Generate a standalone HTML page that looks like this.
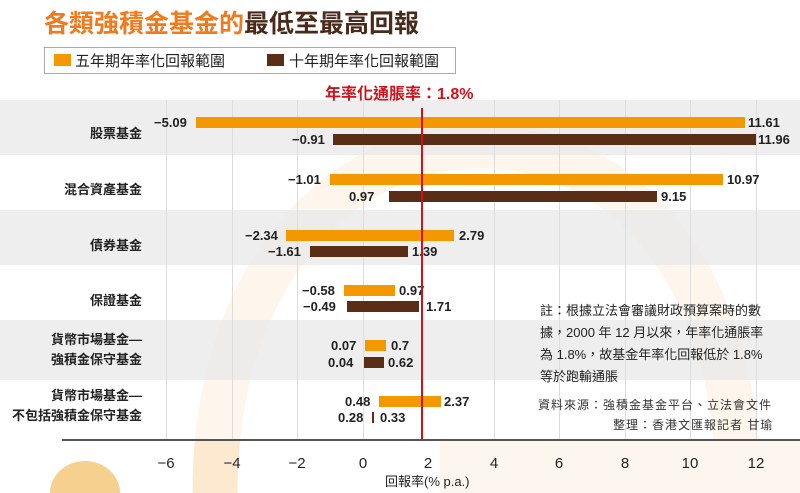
<!DOCTYPE html><html><head><meta charset="utf-8"><style>
html,body{margin:0;padding:0;width:800px;height:493px;overflow:hidden}
#w{width:800px;height:493px;overflow:hidden;background:#fff;font-family:"Liberation Sans","Noto Sans CJK TC",sans-serif;position:relative}
.a{position:absolute}
.v{position:absolute;font-weight:bold;font-size:13px;color:#222;line-height:11px}
.lab{position:absolute;right:658px;font-weight:bold;font-size:13px;color:#222;text-align:right;white-space:nowrap}
.o{position:absolute;height:11px;background:#f39800}
.b{position:absolute;height:11px;background:#5a2e16}
.g{position:absolute;left:0;width:800px;background:#ececec}
.vg{position:absolute;top:100px;height:340px;width:1px;background:#ddd}
.t{position:absolute;top:455px;font-size:15px;color:#222;width:30px;text-align:center;line-height:18px}
</style></head><body><div id="w">
<svg class="a" style="left:0;top:0" width="800" height="493" viewBox="0 0 800 493">
<path d="M215 493 C215 40 740 20 738 493" fill="none" stroke="#fde9cf" stroke-width="45"/>
<rect x="440" y="440" width="360" height="53" fill="#fdf6ee"/>
<path d="M50 493 A35 32 0 0 1 120 493 Z" fill="#f6d08f"/>
</svg>
<div class="g" style="top:100px;height:55px;opacity:.9"></div>
<div class="g" style="top:210px;height:55px;opacity:.9"></div>
<div class="g" style="top:320px;height:60px;opacity:.9"></div>
<div class="a" style="left:0;top:155px;width:800px;height:55px;background:rgba(255,255,255,.6)"></div>
<div class="a" style="left:0;top:265px;width:800px;height:55px;background:rgba(255,255,255,.6)"></div>
<div class="a" style="left:0;top:380px;width:800px;height:60px;background:rgba(255,255,255,.6)"></div>
<div class="vg" style="left:166px"></div><div class="vg" style="left:232px"></div><div class="vg" style="left:297px"></div><div class="vg" style="left:363px"></div><div class="vg" style="left:494px"></div><div class="vg" style="left:559px"></div><div class="vg" style="left:625px"></div><div class="vg" style="left:690px"></div><div class="vg" style="left:756px"></div>
<div class="a" style="left:44px;top:4px;font-size:25px;font-weight:bold;color:#f07a1e;white-space:nowrap">各類強積金基金的<span style="color:#4a2a1a">最低至最高回報</span></div>
<div class="a" style="left:44px;top:47px;width:410px;height:25px;border:1px solid #aaa;background:#fff"></div>
<div class="a" style="left:54px;top:54px;width:17px;height:12px;background:#f39800"></div>
<div class="a" style="left:75px;top:50px;font-size:15px;color:#222">五年期年率化回報範圍</div>
<div class="a" style="left:267px;top:54px;width:17px;height:12px;background:#5a2e16"></div>
<div class="a" style="left:289px;top:50px;font-size:15px;color:#222">十年期年率化回報範圍</div>
<div class="a" style="left:325px;top:80px;font-size:16px;font-weight:bold;color:#d0121b;white-space:nowrap">年率化通脹率：1.8%</div>

<div class="lab" style="top:123px">股票基金</div>
<div class="lab" style="top:179px">混合資產基金</div>
<div class="lab" style="top:235px">債券基金</div>
<div class="lab" style="top:290px">保證基金</div>
<div class="lab" style="top:330px;line-height:20px">貨幣市場基金—<br>強積金保守基金</div>
<div class="lab" style="top:386px;line-height:20px">貨幣市場基金—<br>不包括強積金保守基金</div>

<div class="o" style="left:196px;width:549px;top:117px"></div><div class="v" style="left:154px;top:117px">−5.09</div><div class="v" style="left:748px;top:117px">11.61</div>
<div class="b" style="left:333px;width:423px;top:134px"></div><div class="v" style="left:292px;top:134px">−0.91</div><div class="v" style="left:758px;top:134px">11.96</div>
<div class="o" style="left:330px;width:393px;top:174px"></div><div class="v" style="left:288px;top:174px">−1.01</div><div class="v" style="left:727px;top:174px">10.97</div>
<div class="b" style="left:389px;width:268px;top:191px"></div><div class="v" style="left:349px;top:191px">0.97</div><div class="v" style="left:661px;top:191px">9.15</div>
<div class="o" style="left:286px;width:168px;top:230px"></div><div class="v" style="left:245px;top:230px">−2.34</div><div class="v" style="left:459px;top:230px">2.79</div>
<div class="b" style="left:310px;width:98px;top:246px"></div><div class="v" style="left:268px;top:246px">−1.61</div><div class="v" style="left:412px;top:246px">1.39</div>
<div class="o" style="left:344px;width:51px;top:285px"></div><div class="v" style="left:302px;top:285px">−0.58</div><div class="v" style="left:399px;top:285px">0.97</div>
<div class="b" style="left:347px;width:72px;top:301px"></div><div class="v" style="left:303px;top:301px">−0.49</div><div class="v" style="left:426px;top:301px">1.71</div>
<div class="o" style="left:365px;width:21px;top:340px"></div><div class="v" style="left:331px;top:340px">0.07</div><div class="v" style="left:391px;top:340px">0.7</div>
<div class="b" style="left:364px;width:20px;top:357px"></div><div class="v" style="left:328px;top:357px">0.04</div><div class="v" style="left:388px;top:357px">0.62</div>
<div class="o" style="left:379px;width:62px;top:396px"></div><div class="v" style="left:345px;top:396px">0.48</div><div class="v" style="left:444px;top:396px">2.37</div>
<div class="b" style="left:372px;width:2px;top:412px"></div><div class="v" style="left:338px;top:412px">0.28</div><div class="v" style="left:380px;top:412px">0.33</div>

<div class="a" style="left:421px;top:108px;width:2px;height:332px;background:#d0121b"></div>
<div class="a" style="left:62px;top:439px;width:738px;height:2px;background:#555"></div>
<div class="a" style="left:540px;top:300px;font-size:13px;line-height:22px;color:#222;white-space:nowrap">註：根據立法會審議財政預算案時的數<br>據，2000 年 12 月以來，年率化通脹率<br>為 1.8%，故基金年率化回報低於 1.8%<br>等於跑輸通脹</div>
<div class="a" style="left:538px;top:396px;font-size:12px;color:#333;white-space:nowrap;letter-spacing:1px">資料來源：強積金基金平台、立法會文件</div>
<div class="a" style="left:613px;top:416px;font-size:12px;color:#333;white-space:nowrap;letter-spacing:1px">整理：香港文匯報記者 甘瑜</div>

<div class="t" style="left:151px">−6</div><div class="t" style="left:217px">−4</div><div class="t" style="left:282px">−2</div><div class="t" style="left:348px">0</div><div class="t" style="left:413px">2</div><div class="t" style="left:479px">4</div><div class="t" style="left:544px">6</div><div class="t" style="left:610px">8</div><div class="t" style="left:675px">10</div><div class="t" style="left:741px">12</div>
<div class="a" style="left:385px;top:474px;font-size:13px;color:#222;line-height:16px">回報率(% p.a.)</div>
</div></body></html>
